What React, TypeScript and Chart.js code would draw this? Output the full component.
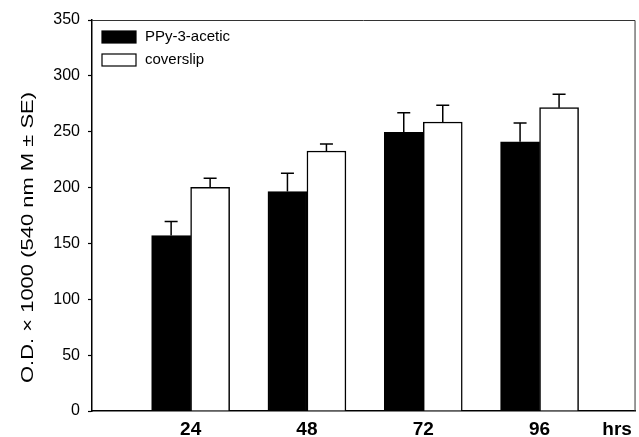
import React, { useEffect, useRef } from "react";
import { Chart, registerables } from "chart.js";

Chart.register(...registerables);

const hours = [24, 48, 72, 96];
const ppyValues = [157, 196.5, 249.5, 241];
const ppyErrors = [12.6, 16.3, 17.5, 16.7];
const coverslipValues = [200.3, 232.7, 258.7, 271.5];
const coverslipErrors = [8.1, 6.3, 14.9, 12];
const yTicks = [0, 50, 100, 150, 200, 250, 300, 350];
const xTickValues = [24, 48, 72, 96, 112];
const xTickLabels = ["24", "48", "72", "96", "hrs"];
const seriesNames = ["PPy-3-acetic", "coverslip"];
const yTitle = "O.D. \u00d7 1000 (540 nm M \u00b1 SE)";

const FONT = "'Liberation Sans', Arial, sans-serif";

const errorBarPlugin = {
  id: "errorBars",
  afterDatasetsDraw(chart: any) {
    const ctx = chart.ctx;
    const yScale = chart.scales.y;
    chart.data.datasets.forEach((ds: any, di: number) => {
      const meta = chart.getDatasetMeta(di);
      meta.data.forEach((bar: any, i: number) => {
        const v = ds.data[i].y;
        const e = ds.errors[i];
        const top = yScale.getPixelForValue(v + e);
        ctx.save();
        ctx.strokeStyle = "#000";
        ctx.lineWidth = 1.5;
        ctx.beginPath();
        ctx.moveTo(bar.x, bar.y);
        ctx.lineTo(bar.x, top);
        ctx.moveTo(bar.x - 6.5, top);
        ctx.lineTo(bar.x + 6.5, top);
        ctx.stroke();
        ctx.restore();
      });
    });
  },
};

const framePlugin = {
  id: "frame",
  afterDraw(chart: any) {
    const { ctx, chartArea } = chart;
    ctx.save();
    ctx.strokeStyle = "#333";
    ctx.lineWidth = 1;
    ctx.beginPath();
    ctx.moveTo(chartArea.left, chartArea.top + 0.5);
    ctx.lineTo(chartArea.right - 0.5, chartArea.top + 0.5);
    ctx.lineTo(chartArea.right - 0.5, chartArea.bottom);
    ctx.stroke();
    ctx.restore();
  },
};

const legendPlugin = {
  id: "innerLegend",
  afterDraw(chart: any) {
    const { ctx, chartArea } = chart;
    ctx.save();
    ctx.font = `15px ${FONT}`;
    ctx.textBaseline = "middle";
    ctx.textAlign = "left";
    chart.data.datasets.forEach((ds: any, i: number) => {
      const bx = chartArea.left + 10;
      const by = chartArea.top + 11 + i * 23;
      ctx.fillStyle = ds.backgroundColor;
      ctx.fillRect(bx, by, 34, 12);
      ctx.strokeStyle = "#000";
      ctx.lineWidth = 1.2;
      ctx.strokeRect(bx, by, 34, 12);
      ctx.fillStyle = "#000";
      ctx.fillText(ds.label, bx + 43, by + 6);
    });
    ctx.restore();
  },
};

const yTitlePlugin = {
  id: "yTitle",
  afterDraw(chart: any) {
    const { ctx, chartArea } = chart;
    ctx.save();
    ctx.font = `17px ${FONT}`;
    ctx.fillStyle = "#000";
    ctx.textAlign = "center";
    ctx.textBaseline = "middle";
    const w = ctx.measureText(yTitle).width;
    ctx.translate(28.5, (chartArea.top + chartArea.bottom) / 2 + 22);
    ctx.rotate(-Math.PI / 2);
    ctx.scale(291 / w, 1);
    ctx.fillText(yTitle, 0, 0);
    ctx.restore();
  },
};

export default function App() {
  const canvasRef = useRef<HTMLCanvasElement | null>(null);

  useEffect(() => {
    if (!canvasRef.current) return;
    const chart = new Chart(canvasRef.current, {
      type: "bar",
      data: {
        datasets: [
          {
            label: seriesNames[0],
            data: hours.map((h, i) => ({ x: h, y: ppyValues[i] })),
            errors: ppyErrors,
            backgroundColor: "#000",
            borderColor: "#000",
            borderWidth: 1.5,
            barThickness: 39,
          } as any,
          {
            label: seriesNames[1],
            data: hours.map((h, i) => ({ x: h, y: coverslipValues[i] })),
            errors: coverslipErrors,
            backgroundColor: "#fff",
            borderColor: "#000",
            borderWidth: 1.5,
            barThickness: 39,
          } as any,
        ],
      },
      options: {
        animation: false,
        responsive: false,
        maintainAspectRatio: false,
        layout: { padding: { top: 20, right: 3, left: 0, bottom: 0 } },
        plugins: {
          legend: { display: false },
          tooltip: { enabled: false },
        },
        scales: {
          x: {
            type: "linear",
            offset: false,
            min: 3.65,
            max: 115.8,
            afterBuildTicks: (scale: any) => {
              scale.ticks = xTickValues.map((v) => ({ value: v }));
            },
            afterFit: (scale: any) => {
              scale.height = 26;
            },
            grid: { display: false, drawTicks: false, offset: false },
            border: { display: true, color: "#000", width: 1.5 },
            ticks: {
              padding: 7,
              color: "#000",
              font: { family: FONT, size: 19, weight: "bold" },
              maxRotation: 0,
              autoSkip: false,
              callback: (v: any) => {
                const idx = xTickValues.indexOf(Number(v));
                return idx >= 0 ? xTickLabels[idx] : "";
              },
            },
          },
          y: {
            min: 0,
            max: 350,
            afterBuildTicks: (scale: any) => {
              scale.ticks = yTicks.map((v) => ({ value: v }));
            },
            afterFit: (scale: any) => {
              scale.width = 92;
            },
            grid: {
              drawOnChartArea: false,
              drawTicks: true,
              tickLength: 4,
              color: "#000",
              tickWidth: 1.2,
            },
            border: { display: true, color: "#000", width: 1.5 },
            ticks: {
              padding: 8,
              color: "#000",
              font: { family: FONT, size: 16 },
            },
          },
        },
      },
      plugins: [errorBarPlugin, framePlugin, legendPlugin, yTitlePlugin],
    } as any);
    return () => chart.destroy();
  }, []);

  return (
    <div style={{ position: "absolute", left: 0, top: 0, width: 639, height: 437, background: "#fff" }}>
      <canvas ref={canvasRef} width={639} height={437} style={{ width: 639, height: 437 }} />
    </div>
  );
}
